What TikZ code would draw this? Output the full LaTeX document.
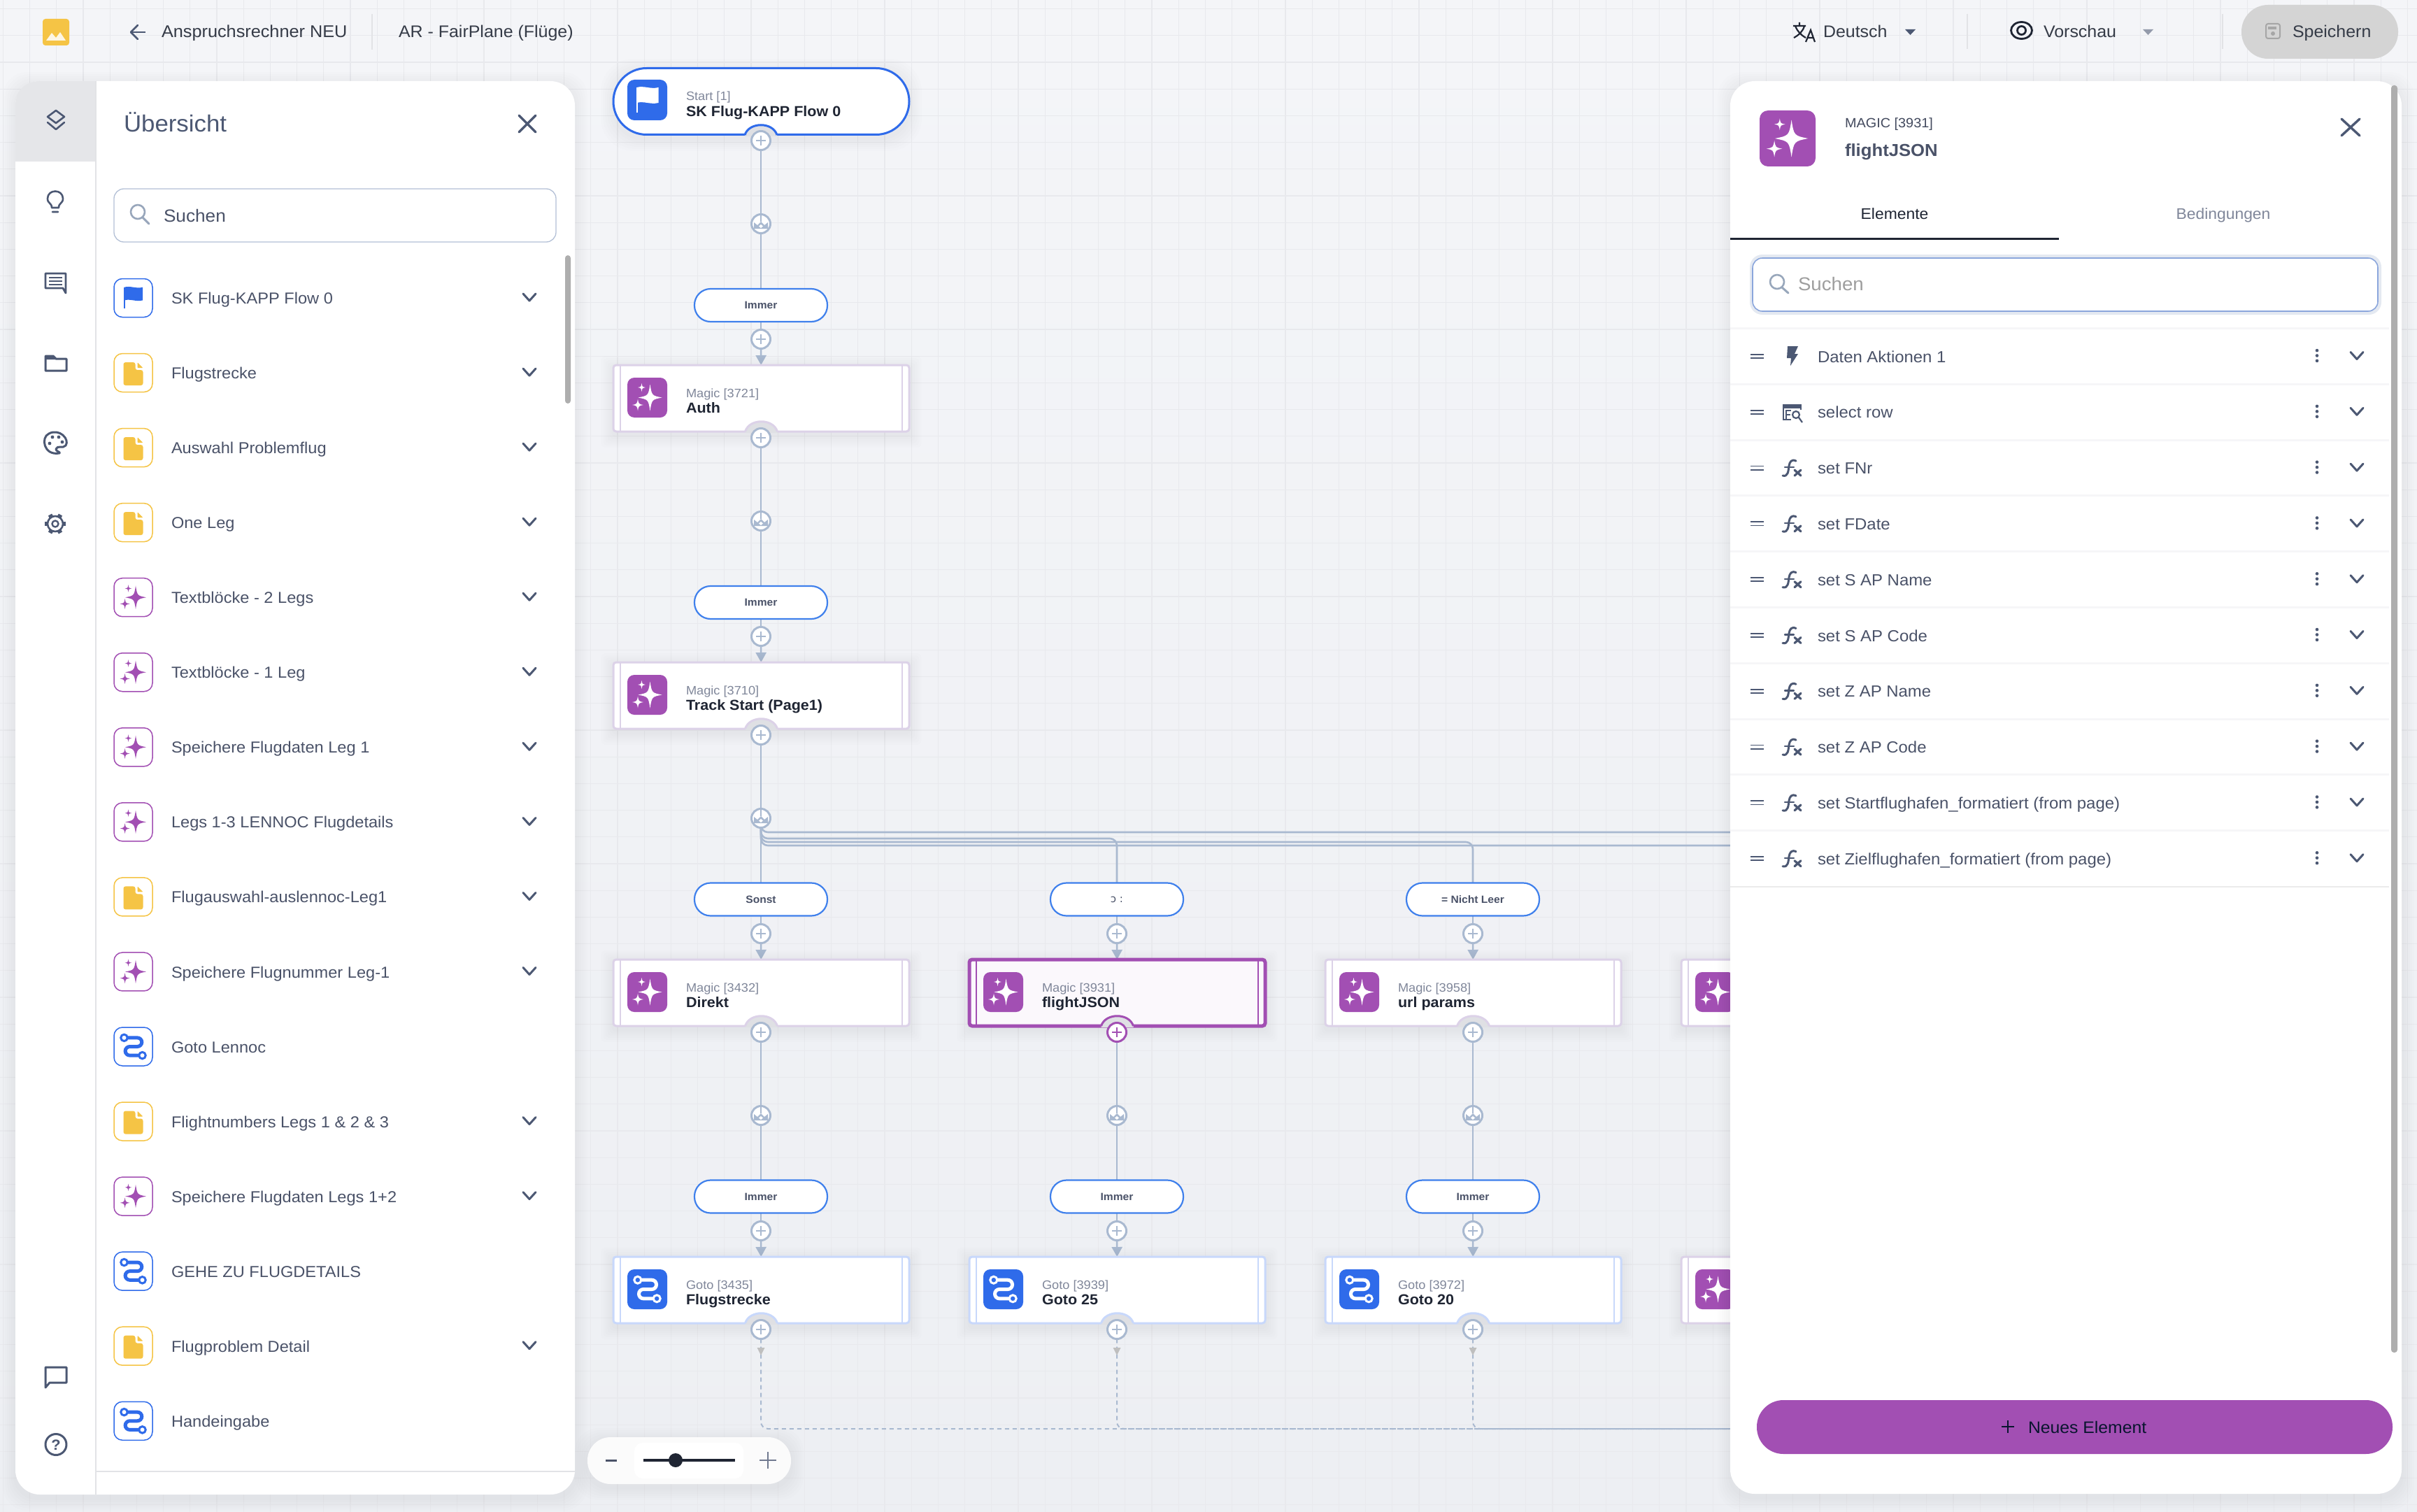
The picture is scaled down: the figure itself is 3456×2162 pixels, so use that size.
\documentclass[tikz,border=0pt]{standalone}
\usepackage{fontspec}
\setmainfont[FakeStretch=1.04]{Liberation Sans}
\newfontfamily\dejavufam{DejaVu Sans}
\usetikzlibrary{arrows.meta,calc,backgrounds}
\definecolor{bgA}{HTML}{F4F5F8}
\definecolor{bgB}{HTML}{EDEFF3}
\definecolor{gridc}{HTML}{E8E9ED}
\definecolor{ink}{HTML}{1F2533}
\definecolor{slate}{HTML}{4A5268}
\definecolor{iconc}{HTML}{4C5873}
\definecolor{grayt}{HTML}{80879A}
\definecolor{linec}{HTML}{A9B9D0}
\definecolor{blue}{HTML}{2F6BEA}
\definecolor{pillb}{HTML}{3F80EC}
\definecolor{purp}{HTML}{A24FB3}
\definecolor{yel}{HTML}{F5C445}
\definecolor{magb}{HTML}{DCD2E8}
\definecolor{gotob}{HTML}{C8D8FB}
\definecolor{notchc}{HTML}{DFE0E4}
\definecolor{hair}{HTML}{E2E3E6}
\definecolor{sep}{HTML}{F6F6F8}
\definecolor{scrollc}{HTML}{AEAEAE}
\definecolor{searchb}{HTML}{B3C0D6}
\newcommand\sz[1]{\fontsize{#1}{#1}\selectfont}
\pgfdeclarelayer{bgl}\pgfdeclarelayer{conn}\pgfdeclarelayer{top}
\pgfsetlayers{bgl,conn,main,top}
\tikzset{
 lbl/.style={inner sep=0,outer sep=0,anchor=mid west},
 clbl/.style={inner sep=0,outer sep=0,anchor=mid},
 fz/.style={font=\sz{#1},yshift={-0.26*#1}},
 fzb/.style={font=\sz{#1}\bfseries,yshift={-0.26*#1}},
 conn/.style={draw=linec,line width=2.6pt},
 dashc/.style={draw=linec,line width=2pt,dash pattern=on 6pt off 5pt},
 flowbox/.style={rectangle,inner sep=0,outer sep=0,minimum width=423pt,minimum height=95pt,rounded corners=4pt,fill=white,line width=3pt},
 magicbox/.style={flowbox,draw=magb},
 gotobox/.style={flowbox,draw=gotob},
 selbox/.style={flowbox,draw=purp,fill=purp!4,line width=5pt},
 startbox/.style={flowbox,draw=blue,line width=3pt,rounded corners=47.5pt},
 pill/.style={rectangle,inner sep=0,outer sep=0,minimum width=190pt,minimum height=47pt,rounded corners=23pt,fill=white,draw=pillb,line width=2.2pt,text=slate,font=\sz{15}\bfseries},
 plusbtn/.style={circle,inner sep=0,outer sep=0,minimum size=27pt,fill=white,draw=#1,line width=3pt,
  path picture={\draw[#1,line width=2.6pt] ($(path picture bounding box.center)+(-7,0)$) -- ($(path picture bounding box.center)+(7,0)$) ($(path picture bounding box.center)+(0,-7)$) -- ($(path picture bounding box.center)+(0,7)$);}},
 plusbtn/.default=linec,
 branchbtn/.style={circle,inner sep=0,outer sep=0,minimum size=27pt,fill=white,draw=linec,line width=3pt,
  path picture={\fill[linec] ($(path picture bounding box.center)+(-10,-2)$) -- ++(5,4) -- ++(5,-5) -- ++(5,5) -- ++(5,-4) -- ++(0,9) -- ++(-20,0) -- cycle;
   \fill[white] ($(path picture bounding box.center)+(0,1)$) -- ++(3,2.5) -- ++(-3,2.5) -- ++(-3,-2.5) -- cycle;
   \draw[linec,line width=2.4pt] ($(path picture bounding box.center)+(0,-14)$) -- ++(0,11);}},
 icn/.style={draw=iconc,line width=3pt,line cap=round,line join=round},
}
\newcommand\softsh[6]{\foreach \k in {1,...,6}{\fill[#6,opacity=.008,rounded corners=#5pt] ({#1-\k*3},{#2-\k*3+5}) rectangle ({#3+\k*3},{#4+\k*3+5});}}
\newcommand\fourstar[4]{\fill ({#1},{#2-#4}) .. controls ({#1+.15*#3},{#2-.15*#4}) .. ({#1+#3},{#2}) .. controls ({#1+.15*#3},{#2+.15*#4}) .. ({#1},{#2+#4}) .. controls ({#1-.15*#3},{#2+.15*#4}) .. ({#1-#3},{#2}) .. controls ({#1-.15*#3},{#2-.15*#4}) .. ({#1},{#2-#4}) -- cycle;}
\newcommand\icMagic[4]{\begin{scope}[shift={(#1,#2)},scale=#3,#4]\fourstar{4}{0}{17}{19}\fourstar{-8}{-14.5}{5.5}{6}\fourstar{-13.5}{10.5}{8}{8.5}\end{scope}}
\newcommand\icFlag[4]{\begin{scope}[shift={(#1,#2)},scale=#3,#4]\fill (-15,-18) .. controls (-5,-21) and (5,-15) .. (16,-18) -- (16,4) .. controls (5,7) and (-5,1) .. (-15,4) -- cycle;\fill (-16,-18) rectangle (-13.5,18);\end{scope}}
\newcommand\icRoute[5]{\begin{scope}[shift={(#1,#2)},scale=#3]\draw[#4,line width=5pt,rounded corners=6.5pt] (-13.7,-13.3) -- (13,-13.3) -- (13,0) -- (-12,0) -- (-12,13.3) -- (13.7,13.3);\filldraw[draw=#4,fill=#5,line width=3pt] (-13.7,-13.3) circle (5);\filldraw[draw=#4,fill=#5,line width=3pt] (13.7,13.3) circle (5);\end{scope}}
\newcommand\icDoc[4]{\begin{scope}[shift={(#1,#2)},scale=#3,#4]\fill[rounded corners=3pt] (-14,-15) -- (3,-15) -- (3,-4) -- (14,-4) -- (14,18) -- (-14,18) -- cycle;\fill[rounded corners=1pt] (6,-15) -- (14,-7) -- (6,-7) -- cycle;\end{scope}}
\newcommand\chev[2]{\draw[icn] ({#1-9},{#2-5}) -- ({#1},{#2+5}) -- ({#1+9},{#2-5});}
\newcommand\listboxbase[3]{\draw[#3,line width=1.5pt,rounded corners=12pt,fill=white] ({#1-27.5},{#2-27.5}) rectangle ({#1+27.5},{#2+27.5});}
\newcommand\listicFlag[2]{\listboxbase{#1}{#2}{blue}\icFlag{#1}{#2}{.85}{blue}}
\newcommand\listicDoc[2]{\listboxbase{#1}{#2}{yel}\icDoc{#1}{#2}{1}{yel}}
\newcommand\listicMagic[2]{\listboxbase{#1}{#2}{purp}\icMagic{#1}{#2}{.88}{purp}}
\newcommand\listicRoute[2]{\listboxbase{#1}{#2}{blue}\icRoute{#1}{#2}{.95}{blue}{white}}
\newcommand\icFx[2]{\begin{scope}[shift={(#1,#2)}]\draw[icn] (6,-10) .. controls (0,-13) and (-3,-9) .. (-4,-3) .. controls (-5,4) and (-5,13) .. (-13,11);\draw[icn,line width=2.4pt] (-10,-1) -- (3,-1);\draw[icn,line width=3.2pt] (4,3) -- (13,11) (13,3) -- (4,11);\end{scope}}
\newcommand\notchmark[3]{\fill[notchc] ({#1-23},{#2+2}) -- ({#1-23},{#2}) .. controls ({#1-17},{#2-19}) and ({#1+17},{#2-19}) .. ({#1+23},{#2}) -- ({#1+23},{#2+2}) -- cycle;\draw[#3,line width=3pt] ({#1-23},{#2}) .. controls ({#1-17},{#2-19}) and ({#1+17},{#2-19}) .. ({#1+23},{#2});}
\newcommand\flowbody[6]{% name cx top boxstyle accent icon
 \softsh{#2-211}{#3}{#2+211}{#3+95}{6}{black}
 \node[#4] (#1) at (#2,{#3+47.5}) {};
 \draw[#5,line width=2pt] ([xshift=10pt]#1.north west) -- ([xshift=10pt]#1.south west);
 \draw[#5,line width=2pt] ([xshift=-10pt]#1.north east) -- ([xshift=-10pt]#1.south east);
 \notchmark{#2}{#3+95}{#5}
 #6
}
\newcommand\magicicon[2]{\fill[purp,rounded corners=10pt] ({#1-191},{#2+18}) rectangle ({#1-134},{#2+75});\icMagic{#1-162.5}{#2+46.5}{1}{white}}
\newcommand\gotoicon[2]{\fill[blue,rounded corners=10pt] ({#1-191},{#2+18}) rectangle ({#1-134},{#2+75});\icRoute{#1-162.5}{#2+46.5}{1}{white}{blue}}
\newcommand\flowlabel[5]{% name cx top kind title
 \node[lbl,text=grayt,fz=17.5] (#1-kind) at ({#2-107},{#3+39}) {#4};
 \node[lbl,text=ink,fzb=20.7] (#1-name) at ({#2-107},{#3+60.5}) {#5};
}
\begin{document}
\begin{tikzpicture}[x=1pt,y=-1pt]
\useasboundingbox (0,0) rectangle (3456,2162);
\begin{pgfonlayer}{bgl}
 \shade[top color=bgA,bottom color=bgB] (0,0) rectangle (3456,2162);
 \foreach \gx in {4.4,42.6,...,3456}{\draw[gridc,line width=1.3pt] (\gx,0) -- (\gx,2162);}
 \foreach \gy in {12.6,50.8,...,2162}{\draw[gridc,line width=1.3pt] (0,\gy) -- (3456,\gy);}
\end{pgfonlayer}
%% ---- flow nodes
\softsh{877}{97}{1300}{193}{47}{black}
\node[startbox] (start) at (1088.5,145) {};
\notchmark{1088}{193}{blue}
\fill[blue,rounded corners=10pt] (897,114) rectangle (954,172);
\icFlag{925.5}{143}{1}{white}
\node[lbl,text=grayt,fz=17.5] (start-kind) at (981,136) {Start [1]};
\node[lbl,text=ink,fzb=20.7] (start-name) at (981,158) {SK Flug-KAPP Flow 0};
\node[plusbtn] (start-p) at (1088,201) {};
\flowbody{auth}{1088.5}{522}{magicbox}{magb}{\magicicon{1088}{522}}
\flowlabel{auth}{1088}{522}{Magic [3721]}{Auth}
\flowbody{track}{1088.5}{947}{magicbox}{magb}{\magicicon{1088}{947}}
\flowlabel{track}{1088}{947}{Magic [3710]}{Track Start (Page1)}
\flowbody{direkt}{1088.5}{1372}{magicbox}{magb}{\magicicon{1088}{1372}}
\flowlabel{direkt}{1088}{1372}{Magic [3432]}{Direkt}
\flowbody{fj}{1597.5}{1372}{selbox}{purp}{\magicicon{1597}{1372}}
\flowlabel{fj}{1597}{1372}{Magic [3931]}{flightJSON}
\flowbody{url}{2106.5}{1372}{magicbox}{magb}{\magicicon{2106}{1372}}
\flowlabel{url}{2106}{1372}{Magic [3958]}{url params}
\flowbody{m4a}{2615.5}{1372}{magicbox}{magb}{\magicicon{2615}{1372}}
\flowbody{fl}{1088.5}{1797}{gotobox}{gotob}{\gotoicon{1088}{1797}}
\flowlabel{fl}{1088}{1797}{Goto [3435]}{Flugstrecke}
\flowbody{g25}{1597.5}{1797}{gotobox}{gotob}{\gotoicon{1597}{1797}}
\flowlabel{g25}{1597}{1797}{Goto [3939]}{Goto 25}
\flowbody{g20}{2106.5}{1797}{gotobox}{gotob}{\gotoicon{2106}{1797}}
\flowlabel{g20}{2106}{1797}{Goto [3972]}{Goto 20}
\flowbody{m4b}{2615.5}{1797}{magicbox}{magb}{\magicicon{2615}{1797}}
%% plus buttons below nodes
\foreach \nm/\cx/\ty in {auth/1088/522,track/1088/947,direkt/1088/1372,url/2106/1372,fl/1088/1797,g25/1597/1797,g20/2106/1797}{
 \node[plusbtn] (\nm-p) at (\cx,{\ty+104}) {};
}
\node[plusbtn=purp] (fj-p) at (1597,1476) {};
%% branch buttons
\foreach \nm/\cx/\ty in {start/1088/97,auth/1088/522,track/1088/947,direkt/1088/1372,fj/1597/1372,url/2106/1372}{
 \node[branchbtn] (\nm-b) at (\cx,{\ty+223}) {};
}
%% condition pills
\node[pill] (l1) at (1088,436.5) {Immer};
\node[pill] (l2) at (1088,861.5) {Immer};
\node[pill] (l3a) at (1088,1286) {Sonst};
\node[pill] (l3b) at (1597,1286) {{\dejavufam\mdseries ɔ :}};
\node[pill] (l3c) at (2106,1286) {= Nicht Leer};
\node[pill] (l4a) at (1088,1711) {Immer};
\node[pill] (l4b) at (1597,1711) {Immer};
\node[pill] (l4c) at (2106,1711) {Immer};
\foreach \nm/\cx/\yy in {q1/1088/485,q2/1088/910,q3a/1088/1335,q3b/1597/1335,q3c/2106/1335,q4a/1088/1760,q4b/1597/1760,q4c/2106/1760}{
 \node[plusbtn] (\nm) at (\cx,\yy) {};
}
\coordinate (h-top) at (2480,1190);
\coordinate (h-col2) at (1597,1199);
\coordinate (h-col3) at (2106,1204);
\coordinate (h-low) at (2480,1209);
\coordinate (d-end) at (2480,2043);
\begin{pgfonlayer}{conn}
 \foreach \s/\l in {start/l1,auth/l2,direkt/l4a,fj/l4b,url/l4c}{
  \draw[conn] (\s-p) -- (\s-b) -- (\l);
 }
 \draw[conn] (track-p) -- (track-b) -- (l3a);
 \foreach \l/\q/\t in {l1/q1/auth,l2/q2/track,l3a/q3a/direkt,l3b/q3b/fj,l3c/q3c/url,l4a/q4a/fl,l4b/q4b/g25,l4c/q4c/g20}{
  \draw[conn] (\l) -- (\q);
  \draw[conn,-{Triangle[width=15pt,length=14pt]}] (\q) -- (\t);
 }
 \draw[conn,rounded corners=10pt] (track-b.south) |- (h-top);
 \draw[conn,rounded corners=10pt] (track-b.south) |- (h-col2) -- (l3b);
 \draw[conn,rounded corners=10pt] (track-b.south) |- (h-col3) -- (l3c);
 \draw[conn,rounded corners=10pt] (track-b.south) |- (h-low);
 \foreach \nm in {fl,g25,g20}{
  \draw[dashc,rounded corners=10pt] (\nm-p) |- (d-end);
  \fill[black!25] ($(\nm-p)+(-5.5,26)$) -- ++(11,0) -- ++(-5.5,11) -- cycle;
 }
\end{pgfonlayer}
%% ---- chrome
\begin{pgfonlayer}{top}
 %% top bar
 \fill[yel,rounded corners=4pt] (61,27) rectangle (99,65);
 \fill[white,opacity=.85] (66,58) -- (74,47) -- (80,54) -- (86,46) -- (94,58) -- cycle;
 \draw[icn,line width=2.8pt,line cap=butt] (208,46) -- (188,46);
 \draw[icn,line width=2.8pt] (197,36) -- (187,46) -- (197,56);
 \node[lbl,text=ink!90,fz=24.3] (title1) at (231,45) {Anspruchsrechner NEU};
 \draw[hair,line width=1.5pt] (532,20) -- (532,71);
 \node[lbl,text=ink!90,fz=24] (title2) at (570,45) {AR - FairPlane (Flüge)};
 %% language
 \draw[ink,line width=2.2pt] (2564,37) -- (2582,37) (2573,32) -- (2573,37) (2567,37) .. controls (2570,45) and (2575,50) .. (2582,54) (2580,37) .. controls (2578,45) and (2572,50) .. (2565,54) (2582,60) -- (2589,43) -- (2595,60) (2585,54) -- (2593,54);
 \node[lbl,text=ink!90,fz=24] (lang) at (2607,45) {Deutsch};
 \fill[iconc] (2724,42) -- (2739,42) -- (2731.5,50) -- cycle;
 \draw[hair,line width=1.5pt] (2813,20) -- (2813,70);
 \draw[ink,line width=2.8pt] (2890.5,43.5) ellipse (15 and 12);
 \draw[ink,line width=2.8pt] (2890.5,43.5) circle (6);
 \node[lbl,text=ink!90,fz=24] (prev) at (2922,45) {Vorschau};
 \fill[iconc!60] (3064,42) -- (3079,42) -- (3071.5,50) -- cycle;
 \draw[hair,line width=1.5pt] (3178,20) -- (3178,70);
 \fill[black!17,rounded corners=38pt] (3205,7) rectangle (3429,84);
 \draw[black!35,line width=2pt,rounded corners=3pt] (3240,34) rectangle (3260,55);
 \fill[black!35] (3243,38) rectangle (3255,42);
 \fill[black!35] (3250,48) circle (3);
 \node[lbl,text=ink!90,fz=24] (saveb) at (3278,45) {Speichern};
 %% left panel
 \softsh{22}{116}{822}{2137}{35}{black}
 \fill[white,rounded corners=35pt] (22,116) rectangle (822,2137);
 \fill[black!6!bgA] (22,231) -- (22,151) .. controls (22,130) and (36,116) .. (57,116) -- (137,116) -- (137,231) -- cycle;
 \draw[hair,line width=2pt] (137,116) -- (137,2137);
 \draw[hair,line width=2pt] (137,2104) -- (822,2104);
 %% sidebar icons
 \draw[icn,line width=2.6pt] (80,158) -- (92,167) -- (80,176) -- (68,167) -- cycle (68,175) -- (80,185) -- (92,175);
 \draw[icn,line width=2.6pt] (74,297) .. controls (74,290) and (68,291) .. (68,284) .. controls (68,270) and (90,270) .. (90,284) .. controls (90,291) and (84,290) .. (84,297) -- cycle (75,303) -- (83,303);
 \draw[icn,line width=2.8pt] (65,391) -- (94,391) -- (94,419) -- (90,412) -- (65,412) -- cycle;
 \draw[iconc,line width=2.6pt] (70,397) -- (89,397) (70,402) -- (89,402) (70,407) -- (89,407);
 \draw[icn] (65,509) -- (76,509) -- (80,513) -- (95,513) -- (95,530) -- (65,530) -- cycle;
 \fill[iconc] (65,509) -- (76,509) -- (80,514) -- (65,514) -- cycle;
 \draw[icn] (85,648) .. controls (62,652) and (58,625) .. (70,620) .. controls (85,612) and (100,628) .. (94,637) .. controls (90,642) and (82,636) .. (80,642) .. controls (79,645) and (88,647) .. (85,648) -- cycle;
 \foreach \dx/\dy in {71/634,75/625,84/625,89/632}{\fill[iconc] (\dx,\dy) circle (2.4);}
 \foreach \ga in {0,60,...,300}{\draw[iconc,line width=6pt] ($(79,749)+(\ga:10)$) -- ($(79,749)+(\ga:15)$);}
 \draw[iconc,line width=2.6pt] (79,749) circle (11);
 \draw[iconc,line width=2.4pt] (79,749) circle (4.5);
 \draw[icn] (65,1955) -- (95,1955) -- (95,1977) -- (71,1977) -- (65,1984) -- cycle;
 \draw[icn] (80,2065.5) circle (15);
 \node[clbl,text=iconc,fzb=21] (helpq) at (80,2065.5) {?};
 %% header
 \node[lbl,text=iconc,fz=33.5] (over) at (177,177) {Übersicht};
 \draw[icn,line width=3.4pt] (742,165) -- (766,189) (766,165) -- (742,189);
 \draw[searchb,line width=1.3pt,rounded corners=14pt] (163,270) rectangle (795,346);
 \draw[draw=linec!90!black,line width=2.6pt,line cap=round] (197,303) circle (10);
 \draw[draw=linec!90!black,line width=3pt,line cap=round] (204,311) -- (213,320);
 \node[lbl,text=slate,fz=25.2] (sl) at (234,308) {Suchen};
 %% list
 \fill[scrollc,rounded corners=4pt] (808,365) rectangle (816,577);
 \foreach \i/\kind/\ltext/\hasch in {0/Flag/{SK Flug-KAPP Flow 0}/1,1/Doc/{Flugstrecke}/1,2/Doc/{Auswahl Problemflug}/1,3/Doc/{One Leg}/1,4/Magic/{Textblöcke - 2 Legs}/1,5/Magic/{Textblöcke - 1 Leg}/1,6/Magic/{Speichere Flugdaten Leg 1}/1,7/Magic/{Legs 1-3 LENNOC Flugdetails}/1,8/Doc/{Flugauswahl-auslennoc-Leg1}/1,9/Magic/{Speichere Flugnummer Leg-1}/1,10/Route/{Goto Lennoc}/0,11/Doc/{Flightnumbers Legs 1 \& 2 \& 3}/1,12/Magic/{Speichere Flugdaten Legs 1+2}/1,13/Route/{GEHE ZU FLUGDETAILS}/0,14/Doc/{Flugproblem Detail}/1,15/Route/{Handeingabe}/0}{
  \pgfmathsetmacro\yy{426+107.05*\i}
  \csname listic\kind\endcsname{190.5}{\yy}
  \node[lbl,text=slate,fz=22.7] (item-\i) at (245,\yy) {\ltext};
  \ifnum\hasch=1 \chev{757}{\yy-1}\fi
 }
 %% zoom control
 \softsh{840}{2055}{1131}{2122}{33}{black}
 \fill[black!1.5,rounded corners=33pt] (840,2055) rectangle (1131,2122);
 \fill[white,rounded corners=12pt] (907,2063) rectangle (1063,2114);
 \draw[slate,line width=3pt] (866,2088) -- (882,2088);
 \draw[ink,line width=3.6pt] (920,2088) -- (1051,2088);
 \fill[ink] (966,2088) circle (10);
 \draw[iconc!80,line width=2.8pt] (1086,2088) -- (1110,2088) (1098,2076) -- (1098,2100);
 %% right panel
 \softsh{2474}{116}{3434}{2136}{35}{black}
 \fill[white,rounded corners=35pt] (2474,116) rectangle (3434,2136);
 \fill[scrollc,rounded corners=4pt] (3419,122) rectangle (3428,1934);
 \fill[purp,rounded corners=12pt] (2516,158) rectangle (2596,238);
 \icMagic{2556}{198}{1.4}{white}
 \node[lbl,text=slate!90!black,fz=19.1] (mg) at (2638,175) {MAGIC [3931]};
 \node[lbl,text=slate,fzb=24.7] (mgn) at (2638,214) {flightJSON};
 \draw[icn,line width=3.4pt] (3348,170) -- (3374,194) (3374,170) -- (3348,194);
 \node[clbl,text=ink,fz=22] (tab1) at (2709,305) {Elemente};
 \node[clbl,text=grayt,fz=22] (tab2) at (3179,305) {Bedingungen};
 \draw[ink,line width=3pt] (2474,341) -- (2944,341);
 \fill[searchb!35,rounded corners=18pt] (2502,364) rectangle (3405,450);
 \draw[fill=white,draw=searchb!70!blue,line width=1.6pt,rounded corners=14pt] (2506,369) rectangle (3400,445);
 \draw[linec!90!black,line width=2.6pt] (2541,403) circle (10);
 \draw[linec!90!black,line width=3pt,line cap=round] (2548,411) -- (2557,419);
 \node[lbl,text=black!38,fz=26.6] (sr) at (2571,406) {Suchen};
 \foreach \i in {0,...,9}{\fill[sep] (2474,{468+79.8*\i}) rectangle (3416,{471+79.8*\i});}
 \fill[black!8] (2474,1267) rectangle (3416,1269);
 \foreach \i/\ltext in {0/{Daten Aktionen 1},1/{select row},2/{set FNr},3/{set FDate},4/{set S AP Name},5/{set S AP Code},6/{set Z AP Name},7/{set Z AP Code},8/{set Startflughafen\_formatiert (from page)},9/{set Zielflughafen\_formatiert (from page)}}{
  \pgfmathsetmacro\yy{509.5+79.8*\i}
  \draw[iconc,line width=1.9pt] (2503,{\yy-2.6}) -- (2522,{\yy-2.6}) (2503,{\yy+2.6}) -- (2522,{\yy+2.6});
  \node[lbl,text=slate,fz=23] (row-\i) at (2599,\yy) {\ltext};
  \foreach \dd in {-7.4,0,7.4}{\fill[iconc] (3313,{\yy-1+\dd}) circle (2.3);}
  \chev{3370}{\yy-1}
  \ifnum\i>1 \icFx{2562}{\yy}\fi
 }
 \fill[iconc] (2556,495) -- (2571,495) -- (2566,506) -- (2571,506) -- (2560,523) -- (2561,512) -- (2555,512) -- cycle;
 \draw[iconc,line width=2.4pt] (2550,579) rectangle (2575,600);
 \fill[iconc] (2550,579) rectangle (2575,584);
 \draw[iconc,line width=2.2pt] (2561,587) -- (2554,587) -- (2554,600) -- (2561,600) (2554,593) -- (2560,593);
 \fill[white] (2561,586) rectangle (2578,605);
 \draw[iconc,line width=2.2pt] (2568,593) circle (5) (2572,597) -- (2577,604);
 %% add button
 \fill[purp,rounded corners=38pt] (2512,2002) rectangle (3421,2079);
 \draw[black!80!blue,line width=2.2pt] (2862,2040) -- (2880,2040) (2871,2031) -- (2871,2049);
 \node[lbl,text=black!80!blue,fz=23.8] (addb) at (2900,2041) {Neues Element};
\end{pgfonlayer}
\end{tikzpicture}
\end{document}
